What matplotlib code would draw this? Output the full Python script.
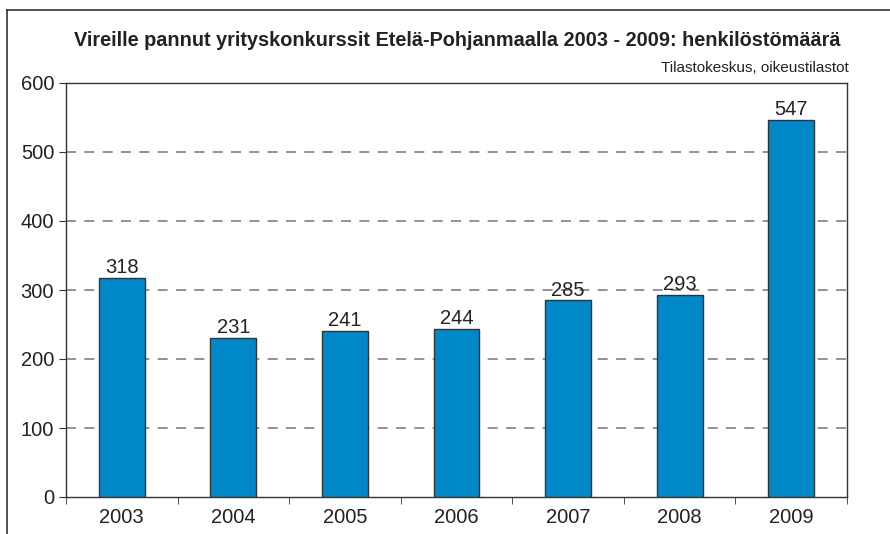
import matplotlib
matplotlib.use("Agg")
import matplotlib.pyplot as plt
from matplotlib.lines import Line2D
import numpy as np

years = ["2003", "2004", "2005", "2006", "2007", "2008", "2009"]
values = [318, 231, 241, 244, 285, 293, 547]

plt.rcParams["font.family"] = ["Liberation Sans", "DejaVu Sans"]

fig = plt.figure(figsize=(8.9, 5.34), dpi=100)
ax = fig.add_axes([66 / 890, 37 / 534, (847 - 66) / 890, (497 - 83) / 534])

# outer frame (only left and top edges visible)
fy = 1 - 10 / 534
fx = 6.5 / 890
fig.add_artist(Line2D([fx, fx], [0, fy], transform=fig.transFigure, color="#333333", lw=1.2))
fig.add_artist(Line2D([fx, 1], [fy, fy], transform=fig.transFigure, color="#333333", lw=1.2))

x = np.arange(len(years))
ax.bar(x, values, width=0.41, color="#0088C8", edgecolor="#333333", lw=1.0, zorder=3)
for xi, v in zip(x, values):
    ax.text(xi, v + 1, str(v), ha="center", va="bottom", fontsize=14.5, color="#222222")

ax.set_xlim(-0.5, len(years) - 0.5)
ax.set_ylim(0, 600)
ax.set_yticks(range(0, 601, 100))
for yv in range(100, 600, 100):
    ax.axhline(yv, ls=(0, (6, 5)), color="#808080", lw=1.2, zorder=1)
ax.set_xticks(x)
ax.set_xticklabels(years)
ax.set_xticks(np.arange(-0.5, len(years)), minor=True)
ax.tick_params(axis="x", which="major", length=0, labelsize=14.5, pad=8, colors="#222222")
ax.tick_params(axis="x", which="minor", length=5, color="#333333")
ax.tick_params(axis="y", length=5, labelsize=14.5, colors="#222222", color="#333333")
for s in ax.spines.values():
    s.set_color("#333333")
    s.set_linewidth(1.0)

fig.text(457 / 890, 1 - 40 / 534,
         "Vireille pannut yrityskonkurssit Etelä-Pohjanmaalla 2003 - 2009: henkilöstömäärä",
         ha="center", va="center", fontsize=14.3, fontweight="bold", color="#222222")
fig.text(849 / 890, 1 - 68 / 534, "Tilastokeskus, oikeustilastot",
         ha="right", va="center", fontsize=11, color="#222222")

fig.savefig("out.png", dpi=100)
